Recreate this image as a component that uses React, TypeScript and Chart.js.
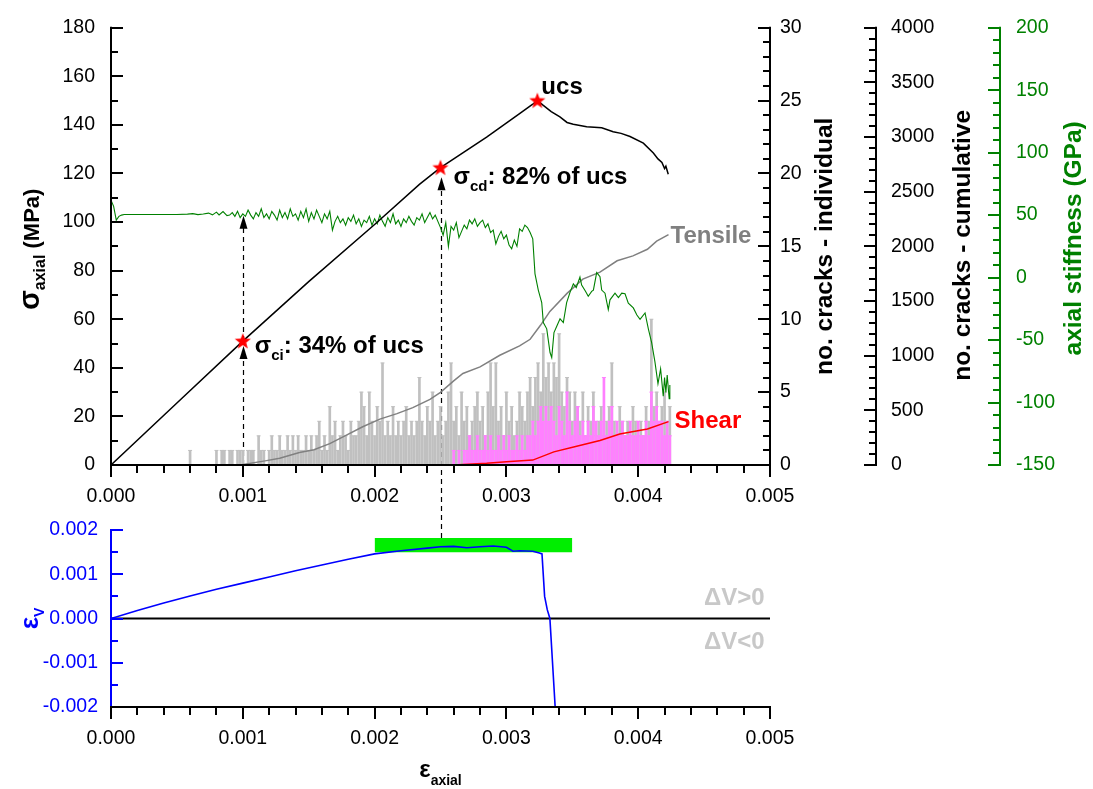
import React, { useEffect, useRef } from 'react';
import { Chart, registerables } from 'chart.js';

Chart.register(...registerables);

const FONT = "'Liberation Sans', Arial, Helvetica, sans-serif";
Chart.defaults.font.family = FONT;
Chart.defaults.color = '#000';

// ---------------- data ----------------
const stressStrain = [0, 0.0005, 0.001, 0.0015, 0.002, 0.00234, 0.0025, 0.00285, 0.0031, 0.0032, 0.003235, 0.00328, 0.00334, 0.003406, 0.00346, 0.003507, 0.003609, 0.003723, 0.00381, 0.00387, 0.003938, 0.004039, 0.004115, 0.00415, 0.00418, 0.0042, 0.00421, 0.004228];
const stressValues = [0, 25.5, 51, 75.5, 99, 115.5, 122.4, 135, 144.6, 148.5, 150, 148, 145.5, 143.3, 141, 140.3, 139.2, 138.8, 137.2, 136.5, 135.2, 132.5, 128.4, 126, 124.5, 122, 123, 119.7];

const starStrain = [0.001, 0.0025, 0.003235];
const starStress = [51, 122.4, 150];

const stiffStrain = [
  0, 0.00002, 0.00004, 0.00006, 0.00008, 0.0001, 0.0003, 0.0005, 0.00058, 0.00062, 0.00066, 0.0007, 0.00074, 0.00077, 0.0008, 0.00082, 0.00085, 0.00088,
  0.0009, 0.00092, 0.00094, 0.00096, 0.00098, 0.001, 0.00102, 0.00104, 0.00106, 0.00108, 0.0011, 0.00112, 0.00114, 0.00116, 0.00118,
  0.0012, 0.00122, 0.00124, 0.00126, 0.00128, 0.0013, 0.00132, 0.00134, 0.00136, 0.00138, 0.0014, 0.00142, 0.00144, 0.00146, 0.00148,
  0.0015, 0.00152, 0.00154, 0.00156, 0.00158, 0.0016, 0.00162, 0.00164, 0.00166, 0.00168, 0.0017, 0.00172, 0.00174, 0.00176, 0.00178,
  0.0018, 0.00182, 0.00184, 0.00186, 0.00188, 0.0019, 0.00192, 0.00194, 0.00196, 0.00198, 0.002, 0.00202, 0.00204, 0.00206, 0.00208,
  0.0021, 0.00212, 0.00214, 0.00216, 0.00218, 0.0022, 0.00222, 0.00224, 0.00226, 0.00228, 0.0023, 0.00232, 0.00234, 0.00236, 0.00238,
  0.0024, 0.00242, 0.00244, 0.00246, 0.00248, 0.0025, 0.00252, 0.00254, 0.00256, 0.00258, 0.0026, 0.00262, 0.00264, 0.00266, 0.00268,
  0.0027, 0.00272, 0.00274, 0.00276, 0.00278, 0.0028, 0.00282, 0.00284, 0.00286, 0.00288, 0.0029, 0.00292, 0.00294, 0.00296, 0.00298,
  0.003, 0.00302, 0.00304, 0.00306, 0.00308, 0.0031, 0.00312, 0.00314, 0.00316, 0.00318, 0.0032,
  0.003217, 0.003242, 0.003268, 0.00328, 0.003306, 0.003331, 0.003344, 0.003361, 0.003382, 0.003407, 0.003432, 0.003457, 0.003482, 0.003508, 0.00353,
  0.003558, 0.003571, 0.0036, 0.003621, 0.003647, 0.00366, 0.003685, 0.00371, 0.003723, 0.003748, 0.003773, 0.003786, 0.003824, 0.00385, 0.003875,
  0.0039, 0.003925, 0.003963, 0.00399, 0.004014, 0.004052, 0.004077, 0.004102, 0.004127, 0.00415, 0.00417, 0.00419, 0.0042, 0.00421, 0.00422, 0.004235, 0.00424,
];
const stiffValues = [
  62, 57, 46, 49, 50, 50.5, 50.5, 50.5, 50.8, 51.2, 50.4, 50.9, 51.6, 50.2, 52.4, 50.1, 52.8, 49.6,
  50, 52, 49, 53, 48, 51, 49, 54, 50, 47, 52, 49, 55, 48, 51,
  47, 53, 50, 46, 54, 48, 52, 47, 55, 49, 51, 46, 53, 48, 55,
  45, 52, 47, 54, 49, 44, 51, 47, 53, 38, 45, 49, 44, 47, 42,
  48, 45, 50, 43, 47, 41, 46, 44, 49, 42, 47, 43, 50, 45, 41,
  48, 44, 51, 43, 46, 41, 47, 44, 49, 45, 42, 48, 46, 51, 44,
  48, 52, 47, 50, 45, 40, 34, 44, 25, 41, 38, 44, 32, 37, 42,
  39, 46, 43, 47, 41, 44, 46, 40, 43, 36, 38, 27, 33, 37, 31,
  34, 26, 23, 30, 25, 39, 37, 42, 40, 36, 31,
  3, -10, -20, -36, -41, -60, -64, -44, -39, -33, -36, -20, -12, -5, -8,
  0.5, -6, -11, -15, -11, -10, 4, 0.7, -10, -12.5, -25.6, -17.8, -12.5, -16, -12.5,
  -13, -20.4, -24.3, -30, -33.5, -28.3, -41, -52, -67.5, -85, -73, -95, -80, -92, -78, -97, -86,
];

const tensileCumStrain = [0, 0.00098, 0.00118, 0.00128, 0.00143, 0.00154, 0.00166, 0.00179, 0.00191, 0.00204, 0.00217, 0.00229, 0.00242, 0.0025, 0.0026, 0.00267, 0.0028, 0.00295, 0.0031, 0.00318, 0.00326, 0.00333, 0.00346, 0.00358, 0.00371, 0.00384, 0.00396, 0.00407, 0.00414, 0.00423];
const tensileCumValues = [0, 0, 40, 62, 115, 140, 195, 275, 350, 420, 470, 525, 600, 665, 770, 837, 897, 1004, 1090, 1150, 1280, 1405, 1570, 1700, 1764, 1868, 1913, 1973, 2048, 2108];

const shearCumStrain = [0, 0.0026, 0.00285, 0.003, 0.0032, 0.00336, 0.00351, 0.00371, 0.00386, 0.00407, 0.00423];
const shearCumValues = [0, 0, 15, 30, 45, 120, 164, 224, 284, 329, 397];

const crackBinWidth = 0.00002;
const tensileBinStart = 0.0006;
const tensileCounts = [
  1, 0, 0, 0, 0, 0, 0, 0, 0, 0,
  1, 0, 1, 1, 0, 1, 1, 0, 1, 1,
  1, 0, 1, 1, 1, 0, 2, 1, 1, 0,
  1, 2, 1, 1, 2, 1, 1, 2, 1, 2,
  1, 2, 1, 1, 2, 1, 2, 1, 2, 3,
  1, 2, 1, 4, 2, 3, 1, 2, 3, 2,
  1, 3, 2, 2, 3, 5, 4, 2, 5, 3,
  2, 4, 3, 7, 2, 3, 2, 4, 2, 3,
  2, 3, 4, 2, 3, 2, 3, 6, 3, 2,
  4, 3, 5, 2, 3, 4, 2, 3, 5, 7,
  3, 4, 2, 5, 3, 4, 2, 3, 4, 5,
  3, 4, 2, 5, 7, 4, 7, 3, 4, 2,
  5, 3, 4, 2, 3, 5, 4, 3, 5, 6,
  4, 6, 7, 5, 9, 6, 7, 5, 7, 6,
  9, 5, 4, 6, 5, 3, 5, 4, 3, 5,
  2, 4, 3, 5, 2, 3, 4, 2, 3, 4,
  7, 3, 2, 4, 3, 2, 3, 2, 4, 3,
  2, 3, 2, 4, 3, 10, 4, 5, 3, 4,
  5, 3, 4,
];
const shearBinStart = 0.0026;
const shearCounts = [
  1, 0, 1, 0, 1, 1, 2, 1, 1, 2,
  1, 1, 2, 1, 2, 1, 1, 2, 1, 2,
  1, 2, 1, 1, 2, 1, 2, 1, 2, 2,
  3, 2, 3, 4, 3, 4, 3, 4, 3, 2,
  4, 3, 2, 5, 3, 2, 3, 4, 2, 3,
  2, 3, 2, 4, 3, 2, 3, 6, 2, 3,
  4, 2, 3, 2, 3, 2, 2, 3, 2, 2,
  3, 2, 2, 3, 2, 5, 3, 4, 3, 3,
  2, 3, 2,
];

const volStrainX = [0, 0.0002, 0.0004, 0.0006, 0.0008, 0.001, 0.0012, 0.0014, 0.0016, 0.0018, 0.002, 0.0022, 0.0024, 0.0025, 0.0026, 0.0027, 0.0028, 0.0029, 0.003, 0.00305, 0.0031, 0.0032, 0.00325, 0.00327, 0.00329, 0.00331, 0.00333, 0.00337, 0.00338];
const volStrainValues = [0, 0.00018, 0.00035, 0.00051, 0.00066, 0.0008, 0.00094, 0.00108, 0.00121, 0.00134, 0.00146, 0.00153, 0.00159, 0.00162, 0.00163, 0.0016, 0.00162, 0.00164, 0.00161, 0.00152, 0.00153, 0.00152, 0.00148, 0.00146, 0.0005, 0.0002, 0, -0.002, -0.0025];

const bandStrain = [0.002, 0.0035];
const bandVolStrain = [0.0015, 0.00182];

const ciArrowTip = 49;      // MPa
const ciStiffTip = 49.5;    // GPa
const cdArrowTip = 118.4;   // MPa

// ---------------- helpers ----------------
const pts = (xs: number[], ys: number[]) => xs.map((x, i) => ({ x, y: ys[i] }));
const bins = (start: number, counts: number[]) => counts.map((c, i) => ({ x: start + i * crackBinWidth, y: c }));

function makeStar(size: number, color: string) {
  const c = document.createElement('canvas');
  c.width = size; c.height = size;
  const g = c.getContext('2d')!;
  const cx = size / 2, cy = size / 2 + 0.5, R = size / 2 - 0.5, r = R * 0.42;
  g.beginPath();
  for (let i = 0; i < 10; i++) {
    const a = -Math.PI / 2 + (i * Math.PI) / 5;
    const rad = i % 2 === 0 ? R : r;
    g.lineTo(cx + rad * Math.cos(a), cy + rad * Math.sin(a));
  }
  g.closePath();
  g.fillStyle = color;
  g.fill();
  return c;
}

type Part = { t: string; font: string; dy?: number };
function richWidth(ctx: any, parts: Part[]) {
  let w = 0;
  for (const p of parts) { ctx.font = p.font; w += ctx.measureText(p.t).width; }
  return w;
}
function drawRich(ctx: any, x: number, y: number, parts: Part[], color: string) {
  let cx = x;
  ctx.fillStyle = color;
  ctx.textAlign = 'left';
  ctx.textBaseline = 'alphabetic';
  for (const p of parts) {
    ctx.font = p.font;
    ctx.fillText(p.t, cx, y + (p.dy || 0));
    cx += ctx.measureText(p.t).width;
  }
}
function drawRotated(ctx: any, bx: number, cy: number, parts: Part[], color: string) {
  ctx.save();
  ctx.translate(bx, cy);
  ctx.rotate(-Math.PI / 2);
  const w = richWidth(ctx, parts);
  drawRich(ctx, -w / 2, 0, parts, color);
  ctx.restore();
}

function drawVAxis(ctx: any, scale: any, xLine: number, top: number, bottom: number, min: number, max: number, major: number, minor: number, dir: number, color: string) {
  ctx.save();
  ctx.strokeStyle = color;
  ctx.lineWidth = 2;
  ctx.beginPath();
  ctx.moveTo(xLine, top - 1);
  ctx.lineTo(xLine, bottom + 1);
  ctx.stroke();
  const n = Math.round((max - min) / minor);
  for (let i = 0; i <= n; i++) {
    const v = min + i * minor;
    const py = Math.round(scale.getPixelForValue(v));
    const q = (v - min) / major;
    const isMajor = Math.abs(q - Math.round(q)) < 1e-6;
    const len = isMajor ? 12 : 7;
    ctx.beginPath();
    ctx.moveTo(xLine, py);
    ctx.lineTo(xLine + dir * len, py);
    ctx.stroke();
  }
  ctx.restore();
}
function drawHAxis(ctx: any, scale: any, yLine: number, left: number, right: number, min: number, max: number, major: number, minor: number, color: string) {
  ctx.save();
  ctx.strokeStyle = color;
  ctx.lineWidth = 2;
  ctx.beginPath();
  ctx.moveTo(left - 1, yLine);
  ctx.lineTo(right + 1, yLine);
  ctx.stroke();
  const n = Math.round((max - min) / minor);
  for (let i = 0; i <= n; i++) {
    const v = min + i * minor;
    const px = Math.round(scale.getPixelForValue(v));
    const q = (v - min) / major;
    const isMajor = Math.abs(q - Math.round(q)) < 1e-6;
    const len = isMajor ? 12 : 8;
    ctx.beginPath();
    ctx.moveTo(px, yLine);
    ctx.lineTo(px, yLine + len);
    ctx.stroke();
  }
  ctx.restore();
}
function dashedV(ctx: any, x: number, y1: number, y2: number) {
  ctx.save();
  ctx.strokeStyle = '#000';
  ctx.lineWidth = 1.2;
  ctx.setLineDash([5, 4]);
  ctx.beginPath();
  ctx.moveTo(x, y1);
  ctx.lineTo(x, y2);
  ctx.stroke();
  ctx.restore();
}
function arrowHead(ctx: any, x: number, yTip: number) {
  ctx.save();
  ctx.fillStyle = '#000';
  ctx.beginPath();
  ctx.moveTo(x, yTip);
  ctx.lineTo(x - 4, yTip + 13);
  ctx.lineTo(x + 4, yTip + 13);
  ctx.closePath();
  ctx.fill();
  ctx.restore();
}

const tickFont = { size: 19.5, family: FONT };
const fmt3 = (v: any) => (Math.abs(Number(v)) < 1e-12 ? '0.000' : Number(v).toFixed(3));
const fmtInt = (v: any) => String(Math.round(Number(v)));

export default function App() {
  const topRef = useRef<HTMLCanvasElement>(null);
  const botRef = useRef<HTMLCanvasElement>(null);

  useEffect(() => {
    if (!topRef.current || !botRef.current) return;
    const star = makeStar(18, '#ff0000');

    // ---------- bottom chart (volumetric strain) ----------
    const bottomPlugin = {
      id: 'bottomDecor',
      afterDatasetsDraw(chart: any) {
        const { ctx, chartArea: a } = chart;
        const { x, y } = chart.scales;
        drawVAxis(ctx, y, Math.round(a.left), a.top, a.bottom, -0.002, 0.002, 0.001, 0.0005, 1, '#0000ff');
        drawHAxis(ctx, x, Math.round(a.bottom), a.left, a.right, 0, 0.005, 0.001, 0.0002, '#000');
        const y0 = y.getPixelForValue(0);
        const xl = x.getPixelForValue(0.0045);
        drawRich(ctx, xl, y0 - 14, [{ t: 'ΔV>0', font: `bold 24px ${FONT}` }], '#c8c8c8');
        drawRich(ctx, xl, y0 + 30, [{ t: 'ΔV<0', font: `bold 24px ${FONT}` }], '#c8c8c8');
        // axis titles
        drawRotated(ctx, 38, y0, [
          { t: 'ε', font: `bold 26px ${FONT}` },
          { t: 'V', font: `bold 14px ${FONT}`, dy: 6 },
        ], '#0000ff');
        const parts: Part[] = [
          { t: 'ε', font: `bold 24px ${FONT}` },
          { t: 'axial', font: `bold 14px ${FONT}`, dy: 8 },
        ];
        const w = richWidth(ctx, parts);
        drawRich(ctx, (a.left + a.right) / 2 - w / 2, 777, parts, '#000');
      },
    };

    const bottomChart = new Chart(botRef.current, {
      type: 'line',
      data: {
        datasets: [
          {
            data: pts(volStrainX, volStrainValues),
            borderColor: '#0000ff',
            borderWidth: 1.6,
            pointRadius: 0,
            order: 0,
          } as any,
          {
            data: [{ x: 0, y: 0 }, { x: 0.005, y: 0 }],
            borderColor: '#000',
            borderWidth: 2,
            pointRadius: 0,
            order: 1,
          },
          {
            data: [{ x: bandStrain[0], y: bandVolStrain[1] }, { x: bandStrain[1], y: bandVolStrain[1] }],
            borderColor: 'rgba(0,0,0,0)',
            borderWidth: 1,
            backgroundColor: '#00ee00',
            fill: { value: bandVolStrain[0] },
            pointRadius: 0,
            order: 2,
          },
        ],
      },
      options: {
        animation: false,
        responsive: false,
        devicePixelRatio: 1,
        layout: { padding: { top: 530, bottom: 42, left: 0, right: 323 } },
        plugins: { legend: { display: false }, tooltip: { enabled: false } },
        scales: {
          x: {
            type: 'linear', position: 'bottom', min: 0, max: 0.005,
            grid: { display: false, drawTicks: false }, border: { display: false },
            ticks: { stepSize: 0.001, callback: fmt3, font: tickFont, color: '#000', padding: 20, maxRotation: 0, autoSkip: false },
            afterFit: (s: any) => { s.height = 40; },
          },
          y: {
            type: 'linear', position: 'left', min: -0.002, max: 0.002,
            grid: { display: false, drawTicks: false }, border: { display: false },
            ticks: { stepSize: 0.001, callback: fmt3, font: tickFont, color: '#0000ff', padding: 13, autoSkip: false },
            afterFit: (s: any) => { s.width = 111; },
          },
        },
      } as any,
      plugins: [bottomPlugin],
    });

    // ---------- top chart ----------
    const topPlugin = {
      id: 'topDecor',
      beforeDatasetsDraw(chart: any) {
        const { ctx } = chart;
        const { x, y, y3 } = chart.scales;
        const xa = Math.round(x.getPixelForValue(starStrain[0])) + 0.5;
        dashedV(ctx, xa, y.getPixelForValue(0), y.getPixelForValue(ciArrowTip) + 12);
        arrowHead(ctx, xa, y.getPixelForValue(ciArrowTip));
        dashedV(ctx, xa, y.getPixelForValue(starStress[0]), y3.getPixelForValue(ciStiffTip) + 12);
        arrowHead(ctx, xa, y3.getPixelForValue(ciStiffTip));
        const xb = Math.round(x.getPixelForValue(starStrain[1])) + 0.5;
        const yStart = bottomChart.scales.y.getPixelForValue(bandVolStrain[1]);
        dashedV(ctx, xb, yStart, y.getPixelForValue(cdArrowTip) + 12);
        arrowHead(ctx, xb, y.getPixelForValue(cdArrowTip));
      },
      afterDatasetsDraw(chart: any) {
        const { ctx, chartArea: a } = chart;
        const { x, y, y1, y2, y3 } = chart.scales;
        drawVAxis(ctx, y, Math.round(a.left), a.top, a.bottom, 0, 180, 20, 10, 1, '#000');
        drawVAxis(ctx, y1, Math.round(y1.left), a.top, a.bottom, 0, 30, 5, 1, -1, '#000');
        drawVAxis(ctx, y2, Math.round(y2.left), a.top, a.bottom, 0, 4000, 500, 100, -1, '#000');
        drawVAxis(ctx, y3, Math.round(y3.left), a.top, a.bottom, -150, 200, 50, 10, -1, '#008000');
        drawHAxis(ctx, x, Math.round(a.bottom), a.left, a.right, 0, 0.005, 0.001, 0.0002, '#000');

        const B24 = `bold 24px ${FONT}`;
        const B15 = `bold 15px ${FONT}`;
        drawRich(ctx, x.getPixelForValue(starStrain[2]) + 4, y.getPixelForValue(starStress[2]) - 7, [{ t: 'ucs', font: B24 }], '#000');
        drawRich(ctx, x.getPixelForValue(starStrain[1]) + 13, y.getPixelForValue(starStress[1]) + 16, [
          { t: 'σ', font: B24 }, { t: 'cd', font: B15, dy: 7 }, { t: ': 82% of ucs', font: B24 },
        ], '#000');
        drawRich(ctx, x.getPixelForValue(starStrain[0]) + 12, y.getPixelForValue(starStress[0]) + 12, [
          { t: 'σ', font: B24 }, { t: 'ci', font: B15, dy: 7 }, { t: ': 34% of ucs', font: B24 },
        ], '#000');
        const nT = tensileCumStrain.length - 1;
        drawRich(ctx, x.getPixelForValue(tensileCumStrain[nT]) + 2, y2.getPixelForValue(tensileCumValues[nT]) + 8, [{ t: 'Tensile', font: B24 }], '#808080');
        const nS = shearCumStrain.length - 1;
        drawRich(ctx, x.getPixelForValue(shearCumStrain[nS]) + 6, y2.getPixelForValue(shearCumValues[nS]) + 6, [{ t: 'Shear', font: B24 }], '#ff0000');

        // axis titles
        const cy = (a.top + a.bottom) / 2;
        drawRotated(ctx, 39, cy + 3, [
          { t: 'σ', font: `bold 29px ${FONT}` },
          { t: 'axial', font: `bold 16px ${FONT}`, dy: 6 },
          { t: ' (MPa)', font: `bold 22px ${FONT}` },
        ], '#000');
        drawRotated(ctx, 832, cy, [{ t: 'no. cracks - individual', font: `bold 24.5px ${FONT}` }], '#000');
        drawRotated(ctx, 970, cy - 1, [{ t: 'no. cracks - cumulative', font: `bold 24.5px ${FONT}` }], '#000');
        drawRotated(ctx, 1081, cy - 8, [{ t: 'axial stiffness (GPa)', font: `bold 24.5px ${FONT}` }], '#008000');
      },
    };

    const tensileBars = bins(tensileBinStart, tensileCounts);
    const shearBars = bins(shearBinStart, shearCounts);

    const topChart = new Chart(topRef.current, {
      type: 'line',
      data: {
        datasets: [
          { data: pts(starStrain, starStress), showLine: false, pointStyle: star, pointRadius: 8, yAxisID: 'y', order: 0 } as any,
          { data: pts(stressStrain, stressValues), borderColor: '#000', borderWidth: 1.5, pointRadius: 0, yAxisID: 'y', order: 1 },
          { data: pts(stiffStrain, stiffValues), borderColor: '#008000', borderWidth: 1.1, pointRadius: 0, yAxisID: 'y3', order: 2 },
          { data: pts(shearCumStrain, shearCumValues), borderColor: '#ff0000', borderWidth: 1.5, pointRadius: 0, yAxisID: 'y2', order: 3 },
          { data: pts(tensileCumStrain, tensileCumValues), borderColor: '#808080', borderWidth: 1.5, pointRadius: 0, yAxisID: 'y2', order: 4 },
          { data: shearBars.filter((p) => p.y > 0), showLine: false, pointStyle: 'line', pointRadius: 2, pointBorderWidth: 1, pointBorderColor: '#ff80ff', borderColor: '#ff80ff', yAxisID: 'y1', order: 5 },
          { type: 'bar', data: shearBars, backgroundColor: '#ff80ff', barThickness: 2, grouped: false, yAxisID: 'y1', order: 6 },
          { data: tensileBars.filter((p) => p.y > 0), showLine: false, pointStyle: 'line', pointRadius: 2, pointBorderWidth: 1, pointBorderColor: '#c0c0c0', borderColor: '#c0c0c0', yAxisID: 'y1', order: 7 },
          { type: 'bar', data: tensileBars, backgroundColor: '#c0c0c0', barThickness: 2, grouped: false, yAxisID: 'y1', order: 8 },
        ] as any,
      },
      options: {
        animation: false,
        responsive: false,
        devicePixelRatio: 1,
        layout: { padding: { top: 19, bottom: 284, left: 0, right: 0 } },
        plugins: { legend: { display: false }, tooltip: { enabled: false } },
        elements: { line: { tension: 0 } },
        scales: {
          x: {
            type: 'linear', position: 'bottom', min: 0, max: 0.005, offset: false,
            grid: { display: false, drawTicks: false }, border: { display: false },
            ticks: { stepSize: 0.001, callback: fmt3, font: tickFont, color: '#000', padding: 20, maxRotation: 0, autoSkip: false },
            afterFit: (s: any) => { s.height = 40; },
          },
          y: {
            type: 'linear', axis: 'y', position: 'left', min: 0, max: 180,
            grid: { display: false, drawTicks: false }, border: { display: false },
            ticks: { stepSize: 20, callback: fmtInt, font: tickFont, color: '#000', padding: 16, autoSkip: false },
            afterFit: (s: any) => { s.width = 111; },
          },
          y1: {
            type: 'linear', axis: 'y', position: 'right', weight: 0, min: 0, max: 30, stacked: false,
            grid: { display: false, drawTicks: false }, border: { display: false },
            ticks: { stepSize: 5, callback: fmtInt, font: tickFont, color: '#000', padding: 10, autoSkip: false },
            afterFit: (s: any) => { s.width = 106; },
          },
          y2: {
            type: 'linear', axis: 'y', position: 'right', weight: 1, min: 0, max: 4000,
            grid: { display: false, drawTicks: false }, border: { display: false },
            ticks: { stepSize: 500, callback: fmtInt, font: tickFont, color: '#000', padding: 15, autoSkip: false },
            afterFit: (s: any) => { s.width = 124; },
          },
          y3: {
            type: 'linear', axis: 'y', position: 'right', weight: 2, min: -150, max: 200,
            grid: { display: false, drawTicks: false }, border: { display: false },
            ticks: { stepSize: 50, callback: fmtInt, font: tickFont, color: '#008000', padding: 16, autoSkip: false },
            afterFit: (s: any) => { s.width = 93; },
          },
        },
      } as any,
      plugins: [topPlugin],
    });

    return () => {
      topChart.destroy();
      bottomChart.destroy();
    };
  }, []);

  return (
    <div style={{ position: 'absolute', left: 0, top: 0, width: 1093, height: 789, background: '#fff' }}>
      <canvas ref={botRef} width={1093} height={789} style={{ position: 'absolute', left: 0, top: 0 }} />
      <canvas ref={topRef} width={1093} height={789} style={{ position: 'absolute', left: 0, top: 0 }} />
    </div>
  );
}
